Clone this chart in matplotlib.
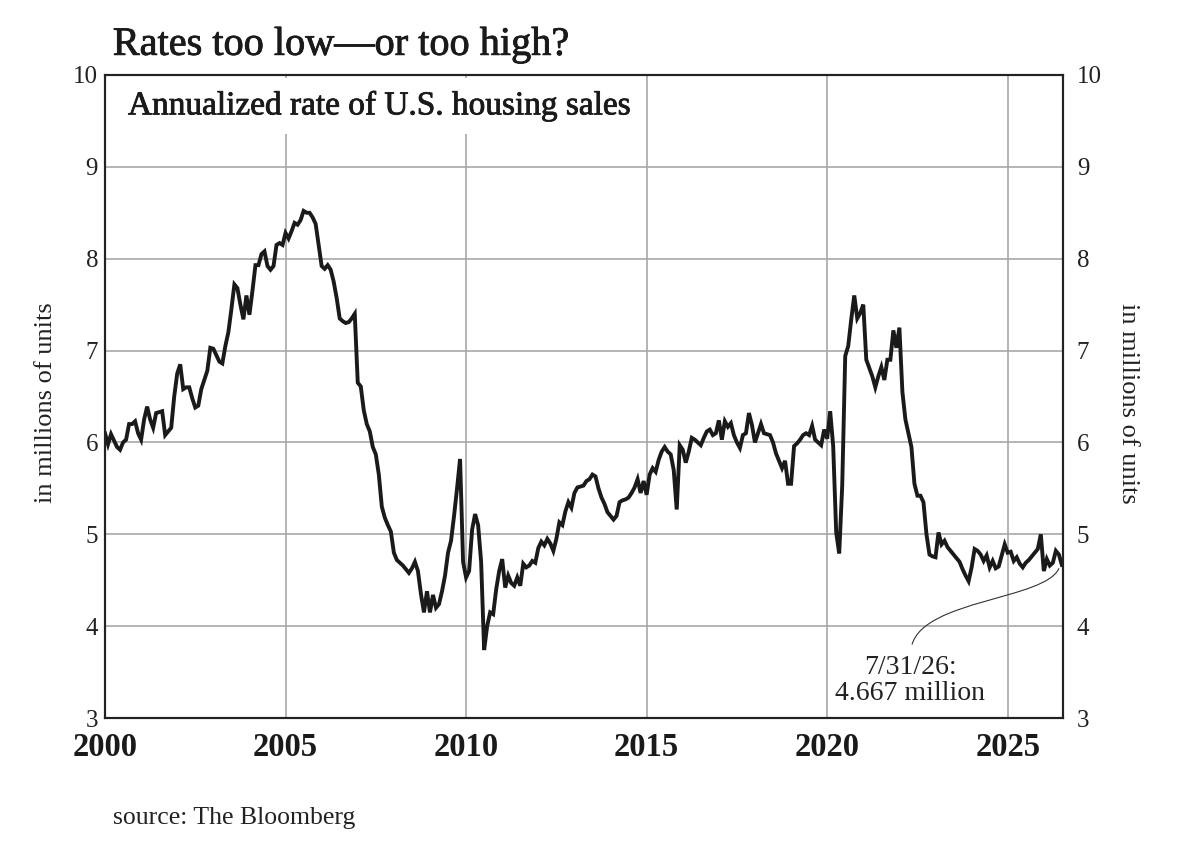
import numpy as np
import matplotlib
matplotlib.use("Agg")
import matplotlib.pyplot as plt
import matplotlib.patheffects as pe
from matplotlib.path import Path
from matplotlib.patches import PathPatch

# monthly annualized rate of U.S. housing sales, millions of units, Jan 2000 on
start_year = 2000
sales = [
    6.10, 5.98, 6.09, 6.02, 5.95, 5.92, 6.00, 6.03, 6.20, 6.20, 6.23, 6.10,  # 2000
    6.03, 6.25, 6.39, 6.25, 6.16, 6.32, 6.33, 6.34, 6.08, 6.12, 6.16, 6.50,  # 2001
    6.75, 6.85, 6.58, 6.60, 6.60, 6.48, 6.38, 6.40, 6.58, 6.68, 6.78, 7.03,  # 2002
    7.02, 6.95, 6.88, 6.86, 7.05, 7.20, 7.45, 7.72, 7.68, 7.50, 7.34, 7.60,  # 2003
    7.39, 7.65, 7.93, 7.93, 8.05, 8.08, 7.92, 7.88, 7.92, 8.15, 8.17, 8.15,  # 2004
    8.28, 8.22, 8.30, 8.39, 8.37, 8.42, 8.52, 8.50, 8.50, 8.45, 8.38, 8.15,  # 2005
    7.92, 7.89, 7.93, 7.88, 7.75, 7.57, 7.35, 7.32, 7.30, 7.31, 7.35, 7.40,  # 2006
    6.65, 6.61, 6.35, 6.20, 6.12, 5.95, 5.87, 5.65, 5.30, 5.18, 5.10, 5.03,  # 2007
    4.80, 4.72, 4.69, 4.66, 4.62, 4.58, 4.63, 4.70, 4.60, 4.35, 4.15, 4.38,  # 2008
    4.15, 4.34, 4.20, 4.24, 4.38, 4.55, 4.80, 4.93, 5.20, 5.50, 5.82, 4.70,  # 2009
    4.53, 4.60, 5.05, 5.22, 5.10, 4.70, 3.74, 4.00, 4.15, 4.13, 4.40, 4.60,  # 2010
    4.73, 4.42, 4.55, 4.47, 4.44, 4.53, 4.44, 4.68, 4.64, 4.66, 4.71, 4.69,  # 2011
    4.85, 4.92, 4.88, 4.95, 4.90, 4.82, 4.95, 5.13, 5.10, 5.25, 5.35, 5.29,  # 2012
    5.45, 5.51, 5.52, 5.53, 5.58, 5.60, 5.65, 5.63, 5.50, 5.40, 5.33, 5.24,  # 2013
    5.20, 5.16, 5.20, 5.35, 5.37, 5.38, 5.40, 5.45, 5.51, 5.60, 5.45, 5.58,  # 2014
    5.43, 5.65, 5.72, 5.68, 5.81, 5.90, 5.95, 5.90, 5.87, 5.70, 5.27, 5.97,  # 2015
    5.92, 5.78, 5.90, 6.05, 6.03, 6.00, 5.97, 6.05, 6.12, 6.14, 6.08, 6.10,  # 2016
    6.24, 6.03, 6.23, 6.17, 6.21, 6.08, 6.00, 5.94, 6.08, 6.10, 6.32, 6.19,  # 2017
    6.00, 6.10, 6.20, 6.10, 6.09, 6.08, 6.00, 5.88, 5.80, 5.72, 5.80, 5.55,  # 2018
    5.55, 5.96, 5.99, 6.03, 6.08, 6.10, 6.08, 6.18, 6.03, 6.00, 5.97, 6.14,  # 2019
    6.04, 6.34, 5.96, 5.02, 4.79, 5.53, 6.94, 7.05, 7.34, 7.60, 7.35, 7.41,  # 2020
    7.50, 6.90, 6.81, 6.72, 6.60, 6.72, 6.82, 6.68, 6.90, 6.90, 7.22, 7.03,  # 2021
    7.25, 6.55, 6.25, 6.10, 5.95, 5.55, 5.42, 5.42, 5.35, 5.00, 4.78, 4.76,  # 2022
    4.75, 5.02, 4.89, 4.93, 4.86, 4.82, 4.78, 4.74, 4.70, 4.62, 4.55, 4.49,  # 2023
    4.64, 4.84, 4.82, 4.78, 4.71, 4.77, 4.64, 4.71, 4.63, 4.65, 4.77, 4.89,  # 2024
    4.80, 4.81, 4.71, 4.75, 4.68, 4.64, 4.69, 4.72, 4.76, 4.80, 4.84, 5.00,  # 2025
    4.60, 4.73, 4.66, 4.69, 4.82, 4.78, 4.667,                               # 2026
]

x_ticks = [2000, 2005, 2010, 2015, 2020, 2025]
y_ticks = [3, 4, 5, 6, 7, 8, 9, 10]
last_label = "7/31/26:\n4.667 million"


def main():
    plt.rcParams["font.family"] = ["Liberation Serif", "DejaVu Serif"]
    ink = "#1a1a1a"

    months = start_year + np.arange(len(sales)) / 12.0

    fig = plt.figure(figsize=(12, 8.55), dpi=100)
    ax = fig.add_axes([0.0875, 0.1602, 0.7983, 0.7521])
    ax2 = ax.twinx()

    ax.plot(months, sales, color=ink, lw=2.8, zorder=3,
            solid_joinstyle="miter")

    ax.set_xlim(2000, 2026.53)
    ax.set_ylim(3, 10)
    ax2.set_ylim(3, 10)

    # grid
    ax.set_xticks(x_ticks)
    ax.set_yticks(y_ticks)
    ax2.set_yticks(y_ticks)
    ax.grid(True, color="#a8a8a8", lw=1.2, zorder=0)
    ax.set_axisbelow(True)
    for a in (ax, ax2):
        for s in a.spines.values():
            s.set_linewidth(1.5)
            s.set_color("#222222")

    # ticks
    ax.tick_params(axis="both", length=0)
    ax2.tick_params(axis="y", length=0)
    ax.tick_params(axis="y", labelsize=18, pad=5, labelcolor="#222222")
    ax2.tick_params(axis="y", labelsize=18, pad=10, labelcolor="#222222")
    ax.tick_params(axis="x", labelsize=23.5, pad=10)
    ax.set_xticklabels([str(t) for t in x_ticks], fontweight="bold",
                       color=ink)

    # axis labels on both sides
    ax.set_ylabel("in millions of units", fontsize=19, color="#222222")
    ax.yaxis.set_label_coords(-0.05, 0.49)
    ax2.set_ylabel("in millions of units", fontsize=19, rotation=270,
                   color="#222222", va="bottom")
    ax2.yaxis.set_label_coords(1.056, 0.49)

    bold_ish = [pe.withStroke(linewidth=0.6, foreground=ink)]

    # subtitle in a white box over the grid
    ax.text(0.024, 0.952, "Annualized rate of U.S. housing sales",
            transform=ax.transAxes, fontsize=24, ha="left", va="center",
            color=ink, zorder=4, path_effects=bold_ish,
            bbox=dict(facecolor="white", edgecolor="none", pad=9))

    # title and source
    fig.text(0.094, 0.947, "Rates too low\u2014or too high?", fontsize=29,
             ha="left", va="center", color=ink, path_effects=bold_ish)
    fig.text(0.094, 0.043, "source: The Bloomberg", fontsize=18.5,
             ha="left", va="center", color="#222222")

    # note on the last value
    ax.text(2022.3, 3.41, last_label, fontsize=20, ha="center",
            va="center", linespacing=1.05, color="#222222", zorder=4)
    verts = [(2022.35, 3.80), (2022.71, 4.29), (2026.04, 4.29),
             (2026.42, 4.63)]
    codes = [Path.MOVETO, Path.CURVE4, Path.CURVE4, Path.CURVE4]
    ax.add_patch(PathPatch(Path(verts, codes), facecolor="none",
                           edgecolor="#333333", lw=0.8, zorder=4))

    fig.savefig("out.png", dpi=100)


if __name__ == "__main__":
    main()
